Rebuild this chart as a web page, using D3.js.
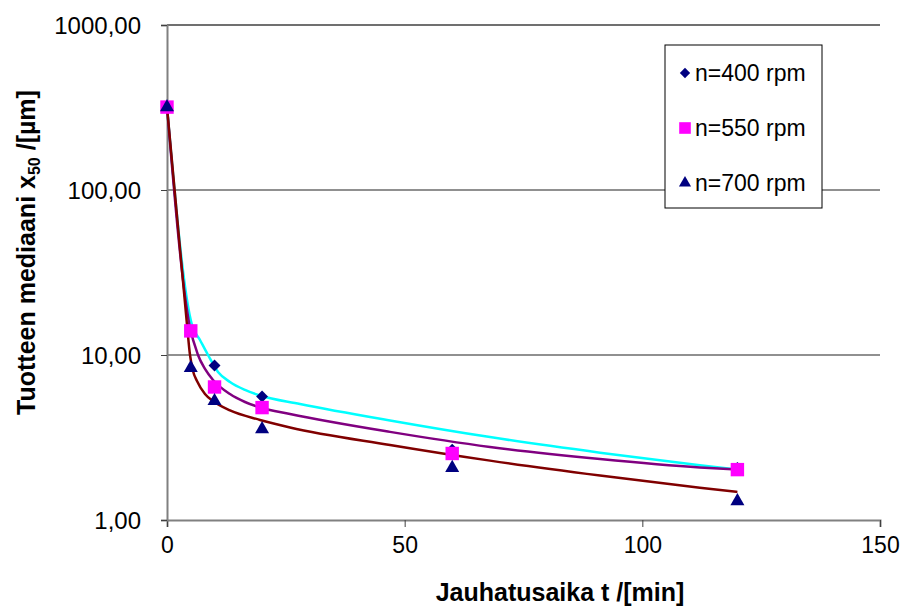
<!DOCTYPE html>
<html>
<head>
<meta charset="utf-8">
<script src="https://cdn.jsdelivr.net/npm/d3@7"></script>
<style>
  body { margin: 0; background: #fff; }
  svg { display: block; font-family: Arial, "Liberation Sans", sans-serif; }
</style>
</head>
<body>
<div id="chart"></div>
<script>
// mittauspisteet (jauhatusaika, min)
const times = [0, 5, 10, 20, 60, 120];
const n400 = [318, 14.0, 8.64, 5.6, 2.67, 2.07];
const n550 = [318, 14.0, 6.4, 4.8, 2.53, 2.02];
const n700 = [318, 8.35, 5.26, 3.55, 2.07, 1.30];

// trend lines
const trend400T = [0, 5.26, 6.94, 8.63, 10.73, 13.25, 16.41, 19.57, 27.98, 46.92, 67.95, 91.1, 112.1, 120];
const trend400V = [318, 15.2, 12.33, 10.0, 7.89, 6.86, 6.14, 5.68, 5.05, 4.01, 3.18, 2.56, 2.15, 2.02];
const trend550T = [0, 4.73, 6.52, 7.99, 9.68, 13.25, 16.41, 19.57, 25.88, 46.92, 67.95, 91.1, 112.1, 120];
const trend550V = [318, 15.2, 10.0, 8.23, 7.06, 5.80, 5.19, 4.81, 4.39, 3.42, 2.77, 2.34, 2.08, 2.02];
const trend700T = [0, 4.21, 4.84, 5.47, 6.31, 7.99, 9.68, 13.25, 19.57, 25.88, 46.92, 67.95, 91.1, 112.1, 120];
const trend700V = [318, 15.2, 10.0, 8.0, 6.96, 5.80, 5.26, 4.61, 4.04, 3.64, 2.85, 2.29, 1.86, 1.57, 1.48];

const xTicks = [0, 50, 100, 150];
const yTicks = [1, 10, 100, 1000];
const legendLabels = ['n=400 rpm', 'n=550 rpm', 'n=700 rpm'];

const width = 904;
const height = 607;
const margin = { left: 167, right: 24, top: 25, bottom: 87 };

const svg = d3.select('#chart')
    .append('svg')
    .attr('width', width)
    .attr('height', height);

const x = d3.scaleLinear().domain([0, 150]).range([margin.left, width - margin.right]);
const y = d3.scaleLog().domain([1, 1000]).range([height - margin.bottom, margin.top]);

// pilkku desimaalierottimena
const fi = d3.formatLocale({ decimal: ',', thousands: '', grouping: [3], currency: ['', ''] });
const yFmt = fi.format('.2f');

// gridlines (top one is heavier grey, like the axes)
svg.append('g')
    .selectAll('line')
    .data(yTicks.filter(d => d > 1))
    .join('line')
    .attr('x1', x(0)).attr('x2', x(150))
    .attr('y1', d => y(d)).attr('y2', d => y(d))
    .attr('stroke', d => d === 1000 ? '#707070' : '#222')
    .attr('stroke-width', d => d === 1000 ? 2 : 1.2);

// axes
const xAxis = svg.append('g')
    .attr('transform', `translate(0,${y(1)})`)
    .call(d3.axisBottom(x).tickValues(xTicks).tickSize(7).tickPadding(10).tickFormat(d3.format('d')));
const yAxis = svg.append('g')
    .attr('transform', `translate(${x(0)},0)`)
    .call(d3.axisLeft(y).tickValues(yTicks).tickSize(6).tickPadding(20).tickFormat(yFmt));

[xAxis, yAxis].forEach(a => {
    a.select('.domain').attr('stroke', '#808080').attr('stroke-width', 2);
    a.selectAll('.tick line').attr('stroke', '#404040').attr('stroke-width', 1);
    a.selectAll('.tick text').attr('fill', '#000').style('font-family', 'Arial, "Liberation Sans", sans-serif');
});
xAxis.selectAll('.tick text').style('font-size', '23px');
yAxis.selectAll('.tick text').style('font-size', '24px').attr('dy', '0.35em');

// trend lines
const line = d3.line()
    .x(d => x(d[0]))
    .y(d => y(d[1]))
    .curve(d3.curveMonotoneX);

const trends = [
    { t: trend400T, v: trend400V, color: '#00FFFF' },
    { t: trend550T, v: trend550V, color: '#800080' },
    { t: trend700T, v: trend700V, color: '#800000' }
];

svg.append('g')
    .selectAll('path')
    .data(trends)
    .join('path')
    .attr('fill', 'none')
    .attr('stroke', d => d.color)
    .attr('stroke-width', 2.5)
    .attr('d', d => line(d.t.map((t, i) => [t, d.v[i]])));

// markers
const series = [
    { vals: n400, symbol: d3.symbolDiamond2, size: 90, color: '#000080', label: legendLabels[0] },
    { vals: n550, symbol: d3.symbolSquare, size: 180, color: '#FF00FF', label: legendLabels[1] },
    { vals: n700, symbol: d3.symbolTriangle, size: 85, color: '#000080', label: legendLabels[2] }
];

series.forEach(s => {
    svg.append('g')
        .selectAll('path')
        .data(times.map((t, i) => [t, s.vals[i]]))
        .join('path')
        .attr('d', d3.symbol().type(s.symbol).size(s.size))
        .attr('transform', d => `translate(${x(d[0])},${y(d[1])})`)
        .attr('fill', s.color);
});

// legend
const legend = svg.append('g').attr('transform', 'translate(665,45)');
legend.append('rect')
    .attr('width', 157).attr('height', 163)
    .attr('fill', '#fff')
    .attr('stroke', '#000')
    .attr('stroke-width', 1);

const item = legend.selectAll('g.item')
    .data(series)
    .join('g')
    .attr('class', 'item')
    .attr('transform', (d, i) => `translate(20,${28 + i * 55})`);

item.append('path')
    .attr('d', d => d3.symbol().type(d.symbol).size(d.size * 0.75)())
    .attr('fill', d => d.color);

item.append('text')
    .attr('x', 10)
    .attr('dy', '0.35em')
    .style('font-size', '23px')
    .text(d => d.label);

// axis titles
svg.append('text')
    .attr('x', 560)
    .attr('y', 601)
    .attr('text-anchor', 'middle')
    .style('font-size', '25px')
    .style('font-weight', 'bold')
    .text('Jauhatusaika t /[min]');

const yTitle = svg.append('text')
    .attr('transform', `translate(35,${y(Math.sqrt(1000)) - 20}) rotate(-90)`)
    .attr('text-anchor', 'middle')
    .style('font-size', '25px')
    .style('font-weight', 'bold');
yTitle.append('tspan').text('Tuotteen mediaani x');
yTitle.append('tspan').attr('dy', 5).style('font-size', '16px').text('50');
yTitle.append('tspan').attr('dy', -5).text(' /[µm]');
</script>
</body>
</html>
